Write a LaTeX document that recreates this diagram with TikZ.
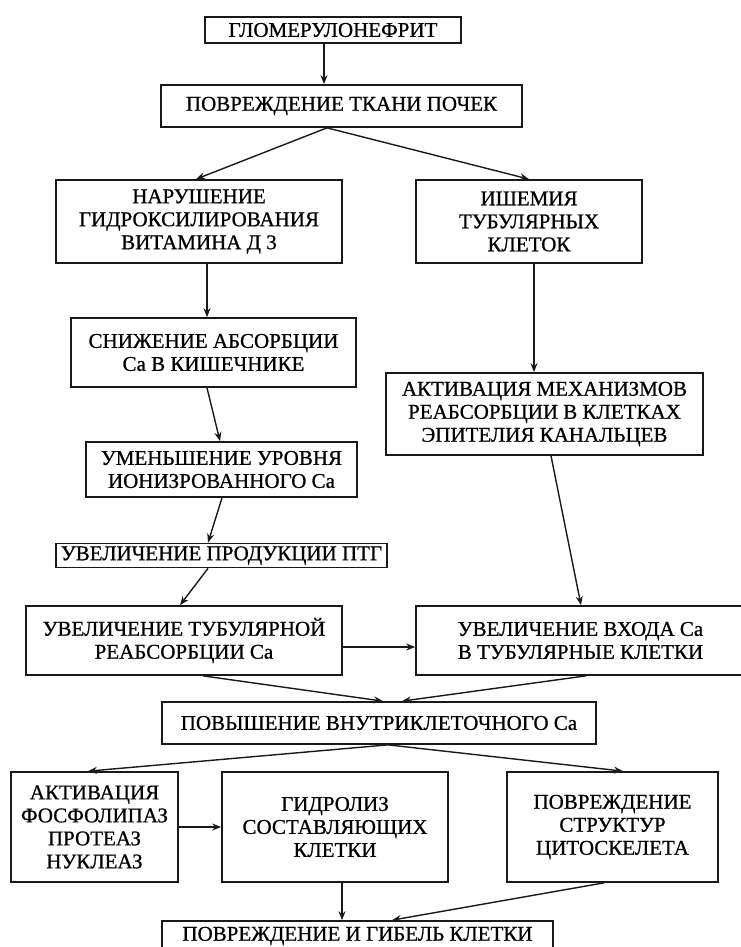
\documentclass[tikz,border=0pt]{standalone}
\usepackage{fontspec}
\setmainfont{Liberation Serif}[FakeBold=0.8]
\usetikzlibrary{arrows.meta}
\tikzset{
  box/.style={draw=black!90, line width=1.7pt, inner sep=0pt, align=center,
    font=\fontsize{21}{23}\selectfont, text=black},
  arr/.style={draw=black!90, line width=1.4pt, -{Stealth[length=9pt,width=7pt]}}
}
\begin{document}
\begin{tikzpicture}[x=1pt,y=-1pt]
\useasboundingbox (0,0) rectangle (741,947);
\node[box, minimum width=256, minimum height=26] (b1) at (333,30) {ГЛОМЕРУЛОНЕФРИТ};
\node[box, minimum width=361, minimum height=42] (b2) at (341.5,106) {ПОВРЕЖДЕНИЕ ТКАНИ ПОЧЕК};
\node[box, minimum width=286, minimum height=83] (b3) at (199,221.5) {НАРУШЕНИЕ\\ГИДРОКСИЛИРОВАНИЯ\\ВИТАМИНА Д 3};
\node[box, minimum width=226, minimum height=83] (b4) at (529,221.5) {ИШЕМИЯ\\ТУБУЛЯРНЫХ\\КЛЕТОК};
\node[box, minimum width=285, minimum height=69] (b5) at (213.5,352.5) {СНИЖЕНИЕ АБСОРБЦИИ\\Ca В КИШЕЧНИКЕ};
\node[box, minimum width=317, minimum height=82] (b6) at (544.5,414) {АКТИВАЦИЯ МЕХАНИЗМОВ\\РЕАБСОРБЦИИ В КЛЕТКАХ\\ЭПИТЕЛИЯ КАНАЛЬЦЕВ};
\node[box, minimum width=271, minimum height=55] (b7) at (221.5,469.5) {УМЕНЬШЕНИЕ УРОВНЯ\\ИОНИЗРОВАННОГО Ca};
\node[box, minimum width=331, minimum height=24] (b8) at (221.5,555.5) {УВЕЛИЧЕНИЕ ПРОДУКЦИИ ПТГ};
\node[box, minimum width=316, minimum height=69] (b9) at (184,640.5) {УВЕЛИЧЕНИЕ ТУБУЛЯРНОЙ\\РЕАБСОРБЦИИ Ca};
\node[box, minimum width=329, minimum height=69] (b10) at (580.5,640.5) {УВЕЛИЧЕНИЕ ВХОДА Ca\\В ТУБУЛЯРНЫЕ КЛЕТКИ};
\node[box, minimum width=434, minimum height=42] (b11) at (379,723) {ПОВЫШЕНИЕ ВНУТРИКЛЕТОЧНОГО Ca};
\node[box, minimum width=167, minimum height=110] (b12) at (94.5,827) {АКТИВАЦИЯ\\ФОСФОЛИПАЗ\\ПРОТЕАЗ\\НУКЛЕАЗ};
\node[box, minimum width=226, minimum height=110] (b13) at (335,827) {ГИДРОЛИЗ\\СОСТАВЛЯЮЩИХ\\КЛЕТКИ};
\node[box, minimum width=211, minimum height=110] (b14) at (612.5,827) {ПОВРЕЖДЕНИЕ\\СТРУКТУР\\ЦИТОСКЕЛЕТА};
\node[box, minimum width=391, minimum height=30] (b15) at (357.5,936) {ПОВРЕЖДЕНИЕ И ГИБЕЛЬ КЛЕТКИ};
\draw[arr] (324,0 |- b1.south) -- (324,0 |- b2.north);
\draw[arr] (327,0 |- b2.south) -- (196,0 |- b3.north);
\draw[arr] (327,0 |- b2.south) -- (529,0 |- b4.north);
\draw[arr] (207,0 |- b3.south) -- (207,0 |- b5.north);
\draw[arr] (534,0 |- b4.south) -- (534,0 |- b6.north);
\draw[arr] (207,0 |- b5.south) -- (220,0 |- b7.north);
\draw[arr] (222,0 |- b7.south) -- (208,0 |- b8.north);
\draw[arr] (208,0 |- b8.south) -- (180,0 |- b9.north);
\draw[arr] (551,0 |- b6.south) -- (581,0 |- b10.north);
\draw[arr] (b9.east |- 0,647) -- (b10.west |- 0,647);
\draw[arr] (203,0 |- b9.south) -- (383,0 |- b11.north);
\draw[arr] (586,0 |- b10.south) -- (402,0 |- b11.north);
\draw[arr] (388,0 |- b11.south) -- (88,0 |- b12.north);
\draw[arr] (388,0 |- b11.south) -- (623,0 |- b14.north);
\draw[arr] (b12.east |- 0,827) -- (b13.west |- 0,827);
\draw[arr] (342,0 |- b13.south) -- (342,0 |- b15.north);
\draw[arr] (604,0 |- b14.south) -- (392,0 |- b15.north);
\end{tikzpicture}
\end{document}
